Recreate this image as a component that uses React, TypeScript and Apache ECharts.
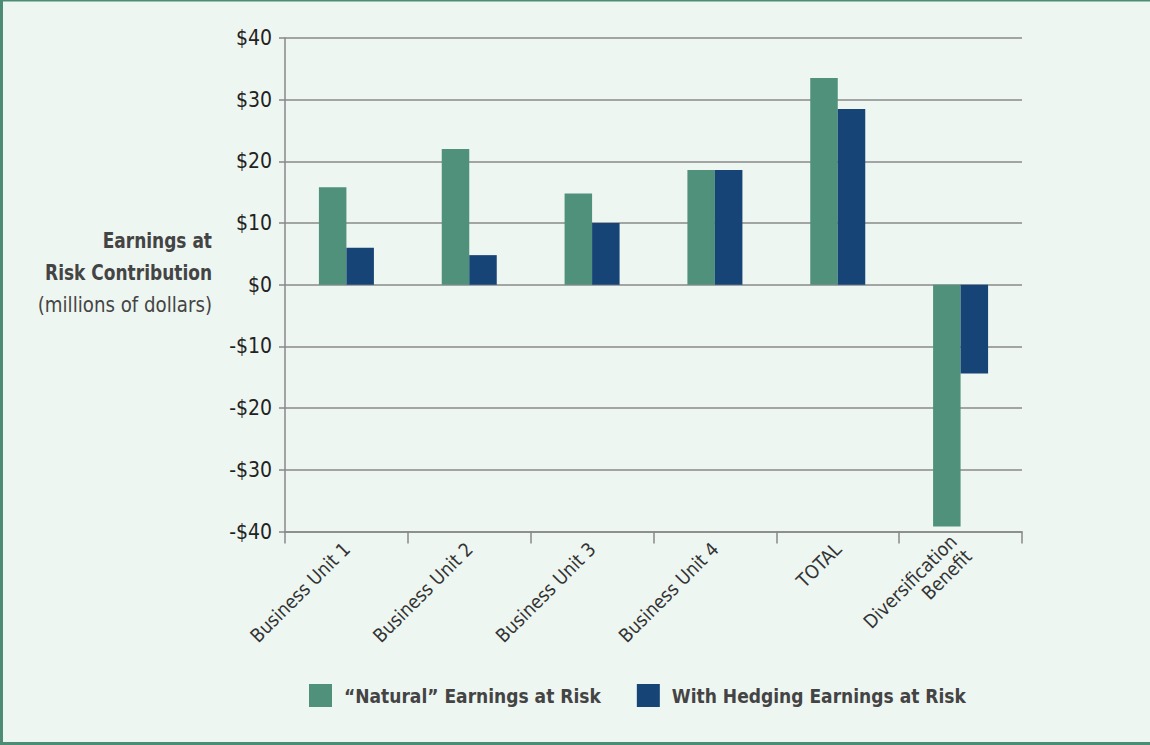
import React, { useEffect, useRef } from "react";
import * as echarts from "echarts";

const categories = [
  "Business Unit 1",
  "Business Unit 2",
  "Business Unit 3",
  "Business Unit 4",
  "TOTAL",
  "Diversification\nBenefit",
];
const naturalValues = [15.8, 22.0, 14.8, 18.6, 33.5, -39.2];
const hedgingValues = [6.0, 4.8, 10.0, 18.6, 28.5, -14.4];
const seriesNames = ["\u201CNatural\u201D Earnings at Risk", "With Hedging Earnings at Risk"];
const yTicks = { min: -40, max: 40, interval: 10 };
const titleLines = ["Earnings at", "Risk Contribution", "(millions of dollars)"];

const FONT = "'DejaVu Sans Condensed', 'Liberation Sans Narrow', sans-serif";

export default function App() {
  const ref = useRef<HTMLDivElement>(null);
  useEffect(() => {
    if (!ref.current) return;
    const chart = echarts.init(ref.current, undefined, { renderer: "svg" });
    chart.setOption({
      animation: false,
      backgroundColor: "#eef6f1",
      grid: { left: 285, right: 128, top: 38, bottom: 213.5, containLabel: false },
      legend: {
        left: 309,
        top: 684,
        padding: 0,
        itemWidth: 23,
        itemHeight: 23,
        itemGap: 36,
        icon: "rect",
        textStyle: {
          fontFamily: FONT,
          fontWeight: "bold",
          fontSize: 19,
          color: "#444",
          padding: [0, 0, 0, 7],
        },
        data: seriesNames,
      },
      xAxis: {
        type: "category",
        data: categories,
        position: "bottom",
        axisLine: { onZero: false, lineStyle: { color: "#888", width: 1.5 } },
        axisTick: { show: true, length: 12, lineStyle: { color: "#888", width: 1.5 } },
        axisLabel: {
          rotate: 45,
          margin: 14,
          fontFamily: FONT,
          fontSize: 19,
          color: "#333",
          interval: 0,
          lineHeight: 21,
          align: "right",
        },
      },
      yAxis: {
        type: "value",
        min: yTicks.min,
        max: yTicks.max,
        interval: yTicks.interval,
        axisLine: { show: true, lineStyle: { color: "#888", width: 1.5 } },
        axisTick: { show: true, length: 6, lineStyle: { color: "#888", width: 1.5 } },
        splitLine: { show: true, lineStyle: { color: "#8a8a8a", width: 1.5 } },
        axisLabel: {
          margin: 13,
          fontFamily: FONT,
          fontSize: 21,
          color: "#222",
          formatter: (v: number) => (v < 0 ? "-$" + Math.abs(v) : "$" + v),
        },
      },
      series: [
        {
          name: seriesNames[0],
          type: "bar",
          data: naturalValues,
          barWidth: 27.5,
          barGap: "0%",
          itemStyle: { color: "#4f917a" },
        },
        {
          name: seriesNames[1],
          type: "bar",
          data: hedgingValues,
          barWidth: 27.5,
          barGap: "0%",
          itemStyle: { color: "#164477" },
        },
      ],
      graphic: [
        {
          type: "text",
          x: 212,
          y: 240,
          scaleX: 0.86,
          style: {
            text: titleLines[0],
            textAlign: "right",
            textVerticalAlign: "middle",
            font: "bold 22px " + FONT,
            fill: "#444",
          },
        },
        {
          type: "text",
          x: 212,
          y: 272,
          scaleX: 0.86,
          style: {
            text: titleLines[1],
            textAlign: "right",
            textVerticalAlign: "middle",
            font: "bold 22px " + FONT,
            fill: "#444",
          },
        },
        {
          type: "text",
          x: 212,
          y: 304,
          scaleX: 0.92,
          style: {
            text: titleLines[2],
            textAlign: "right",
            textVerticalAlign: "middle",
            font: "22px " + FONT,
            fill: "#444",
          },
        },
        { type: "rect", shape: { x: 0, y: 0, width: 1150, height: 1.5 }, style: { fill: "#4d8c74" }, silent: true },
        { type: "rect", shape: { x: 0, y: 0, width: 3, height: 745 }, style: { fill: "#4d8c74" }, silent: true },
        { type: "rect", shape: { x: 0, y: 742, width: 1150, height: 3 }, style: { fill: "#4d8c74" }, silent: true },
      ],
    });
    return () => chart.dispose();
  }, []);
  return (
    <div
      ref={ref}
      style={{ position: "fixed", left: 0, top: 0, width: 1150, height: 745 }}
    />
  );
}
